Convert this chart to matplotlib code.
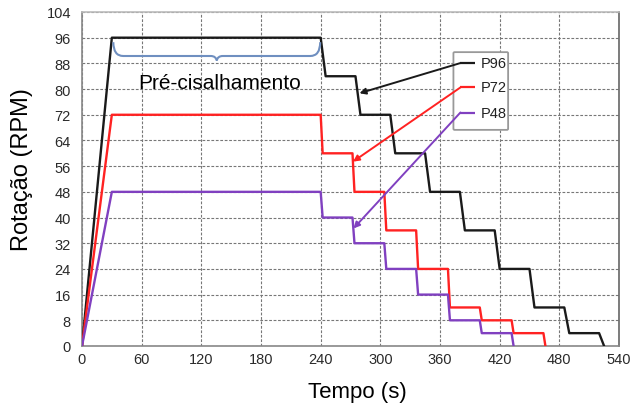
import numpy as np
import matplotlib
matplotlib.use("Agg")
import matplotlib.pyplot as plt
from matplotlib.path import Path
from matplotlib.patches import PathPatch, FancyBboxPatch

plt.rcParams['font.family'] = ['Liberation Sans', 'DejaVu Sans']

# data (time in s, rotation in RPM)
t_p96 = [0, 30, 240, 245, 275, 280, 310, 315, 345, 350, 380, 385, 415, 420, 450, 455, 485, 490, 520, 525]
r_p96 = [0, 96, 96, 84, 84, 72, 72, 60, 60, 48, 48, 36, 36, 24, 24, 12, 12, 4, 4, 0]

t_p72 = [0, 30, 240, 242, 272, 274, 304, 306, 336, 338, 368, 370, 400, 402, 432, 434, 464, 466]
r_p72 = [0, 72, 72, 60, 60, 48, 48, 36, 36, 24, 24, 12, 12, 8, 8, 4, 4, 0]

t_p48 = [0, 30, 240, 242, 272, 274, 304, 306, 336, 338, 368, 370, 400, 402, 432, 434]
r_p48 = [0, 48, 48, 40, 40, 32, 32, 24, 24, 16, 16, 8, 8, 4, 4, 0]

labels = ['P96', 'P72', 'P48']
colors = ['#1a1a1a', '#ff2222', '#8040c0']
# where each label's arrow points on its curve
arrow_tips = [(279, 78.7), (272.5, 57.4), (273, 36.6)]
legend_y = [88.1, 80.5, 72.7]

x_ticks = np.arange(0, 541, 60)
y_ticks = np.arange(0, 105, 8)

fig = plt.figure(figsize=(6.39, 4.10), dpi=100)
ax = fig.add_axes([82 / 639, 1 - 347 / 410, 537 / 639, 334 / 410])

series = [(t_p96, r_p96), (t_p72, r_p72), (t_p48, r_p48)]
for (t, r), c in zip(series, colors):
    ax.plot(t, r, color=c, lw=1.7, zorder=3)

ax.set_xlim(0, 540)
ax.set_ylim(0, 104)
ax.set_xticks(x_ticks)
ax.set_yticks(y_ticks)
ax.grid(True, color='#777777', lw=0.8, linestyle=(0, (2.5, 1.5)))
ax.set_axisbelow(True)
ax.tick_params(length=0, labelsize=10.5, labelcolor='#2a2a2a')
ax.tick_params(axis='y', pad=8)
ax.tick_params(axis='x', pad=4)
for side, col in [('left', '#888888'), ('bottom', '#888888'), ('top', '#bbbbbb'), ('right', '#666666')]:
    ax.spines[side].set_color(col)
    ax.spines[side].set_linewidth(1.2)

ax.set_xlabel('Tempo (s)', fontsize=16)
ax.xaxis.set_label_coords(0.513, -0.105)
ax.set_ylabel('Rotação (RPM)', fontsize=17)
ax.yaxis.set_label_coords(-0.091, 0.53)

# curly brace over the pre-shear plateau
x0, x1, xm = 31.5, 239.5, 135.5
yt, yb, ytip = 94.6, 90.3, 88.9
verts = [(x0, yt), (x0, yb), (x0 + 10, yb), (x0 + 12, yb),
         (xm - 6, yb), (xm - 1, yb), (xm, ytip),
         (xm + 1, yb), (xm + 6, yb), (x1 - 12, yb),
         (x1 - 10, yb), (x1, yb), (x1, yt)]
codes = [Path.MOVETO, Path.CURVE3, Path.CURVE3, Path.LINETO,
         Path.LINETO, Path.CURVE3, Path.CURVE3,
         Path.CURVE3, Path.CURVE3, Path.LINETO,
         Path.LINETO, Path.CURVE3, Path.CURVE3]
ax.add_patch(PathPatch(Path(verts, codes), fill=False, edgecolor='#6f8fc0', lw=1.5, zorder=4))
ax.text(138, 82.2, 'Pré-cisalhamento', fontsize=15, ha='center', va='center', zorder=5)

# legend-like box with arrows to each curve
box = FancyBboxPatch((373.5, 67.3), 55, 24.2, boxstyle='round,pad=0,rounding_size=1.2',
                     facecolor='white', edgecolor='#999999', lw=1.3, zorder=5,
                     mutation_aspect=0.3)
ax.add_patch(box)
for lab, c, ly, tip in zip(labels, colors, legend_y, arrow_tips):
    ax.plot([380.5, 395.5], [ly, ly], color=c, lw=1.6, zorder=6, solid_capstyle='butt')
    ax.text(401, ly, lab, fontsize=10.5, va='center', ha='left', color='#222222', zorder=6)
    ax.annotate('', xy=tip, xytext=(380.5, ly),
                arrowprops=dict(arrowstyle='-|>', color=c, lw=1.4, mutation_scale=9,
                                shrinkA=0, shrinkB=0), zorder=6)

fig.savefig('out.png', dpi=100)
